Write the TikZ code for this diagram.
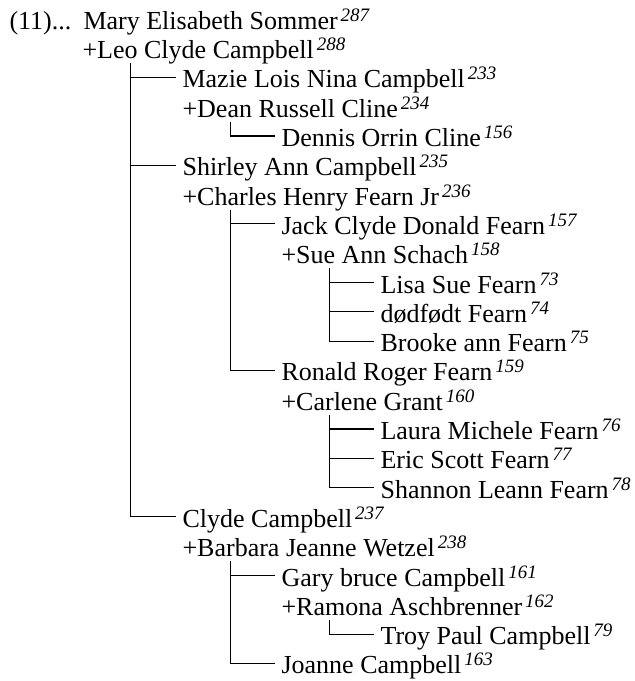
\documentclass[tikz,border=0pt]{standalone}
\usepackage{fontspec}
\setmainfont{Liberation Serif}
\usetikzlibrary{positioning}
\usetikzlibrary{calc}

\newcommand\refno[1]{\kern3pt{\fontsize{19}{19}\selectfont\itshape\raisebox{8pt}{#1}}}

\begin{document}
\begin{tikzpicture}[x=1pt, y=-29.3pt]
  \tikzset{person/.style={anchor=base west, inner xsep=6pt, inner ysep=0pt,
      text height=25pt, text depth=4pt, font=\fontsize{26}{30}\selectfont}}
  \tikzset{every path/.style={line width=1.1pt}}

  \useasboundingbox (0,0) rectangle (635,23.2423);

  \node[person] (mary) at (3,1) {\makebox[74pt][l]{(11)...}Mary Elisabeth Sommer\refno{287}};
  \node[person] (leo) at (76,2) {+Leo Clyde Campbell\refno{288}};
  \node[person] (mazie) at (176,3) {Mazie Lois Nina Campbell\refno{233}};
  \node[person] (dean) at (176,4) {+Dean Russell Cline\refno{234}};
  \node[person] (dennis) at (275,5) {Dennis Orrin Cline\refno{156}};
  \node[person] (shirley) at (176,6) {Shirley Ann Campbell\refno{235}};
  \node[person] (charles) at (176,7) {+Charles Henry Fearn Jr\refno{236}};
  \node[person] (jack) at (275,8) {Jack Clyde Donald Fearn\refno{157}};
  \node[person] (sue) at (275,9) {+Sue Ann Schach\refno{158}};
  \node[person] (lisa) at (374,10) {Lisa Sue Fearn\refno{73}};
  \node[person] (dodfodt) at (374,11) {dødfødt Fearn\refno{74}};
  \node[person] (brooke) at (374,12) {Brooke ann Fearn\refno{75}};
  \node[person] (ronald) at (275,13) {Ronald Roger Fearn\refno{159}};
  \node[person] (carlene) at (275,14) {+Carlene Grant\refno{160}};
  \node[person] (laura) at (374,15) {Laura Michele Fearn\refno{76}};
  \node[person] (eric) at (374,16) {Eric Scott Fearn\refno{77}};
  \node[person] (shannon) at (374,17) {Shannon Leann Fearn\refno{78}};
  \node[person] (clyde) at (176,18) {Clyde Campbell\refno{237}};
  \node[person] (barbara) at (176,19) {+Barbara Jeanne Wetzel\refno{238}};
  \node[person] (gary) at (275,20) {Gary bruce Campbell\refno{161}};
  \node[person] (ramona) at (275,21) {+Ramona Aschbrenner\refno{162}};
  \node[person] (troy) at (374,22) {Troy Paul Campbell\refno{79}};
  \node[person] (joanne) at (275,23) {Joanne Campbell\refno{163}};

  % family lines
  \coordinate (leo-v) at ([xshift=54.5pt]leo.south west);
  \coordinate (dean-v) at ([xshift=54.5pt]dean.south west);
  \coordinate (charles-v) at ([xshift=54.5pt]charles.south west);
  \coordinate (sue-v) at ([xshift=54.5pt]sue.south west);
  \coordinate (carlene-v) at ([xshift=54.5pt]carlene.south west);
  \coordinate (barbara-v) at ([xshift=54.5pt]barbara.south west);
  \coordinate (ramona-v) at ([xshift=54.5pt]ramona.south west);

  \draw (leo-v) |- (mazie.west);
  \draw (leo-v) |- (shirley.west);
  \draw (leo-v) |- (clyde.west);
  \draw (dean-v) |- (dennis.west);
  \draw (charles-v) |- (jack.west);
  \draw (charles-v) |- (ronald.west);
  \draw (sue-v) |- (lisa.west);
  \draw (sue-v) |- (dodfodt.west);
  \draw (sue-v) |- (brooke.west);
  \draw (carlene-v) |- (laura.west);
  \draw (carlene-v) |- (eric.west);
  \draw (carlene-v) |- (shannon.west);
  \draw (barbara-v) |- (gary.west);
  \draw (barbara-v) |- (joanne.west);
  \draw (ramona-v) |- (troy.west);
\end{tikzpicture}
\end{document}
